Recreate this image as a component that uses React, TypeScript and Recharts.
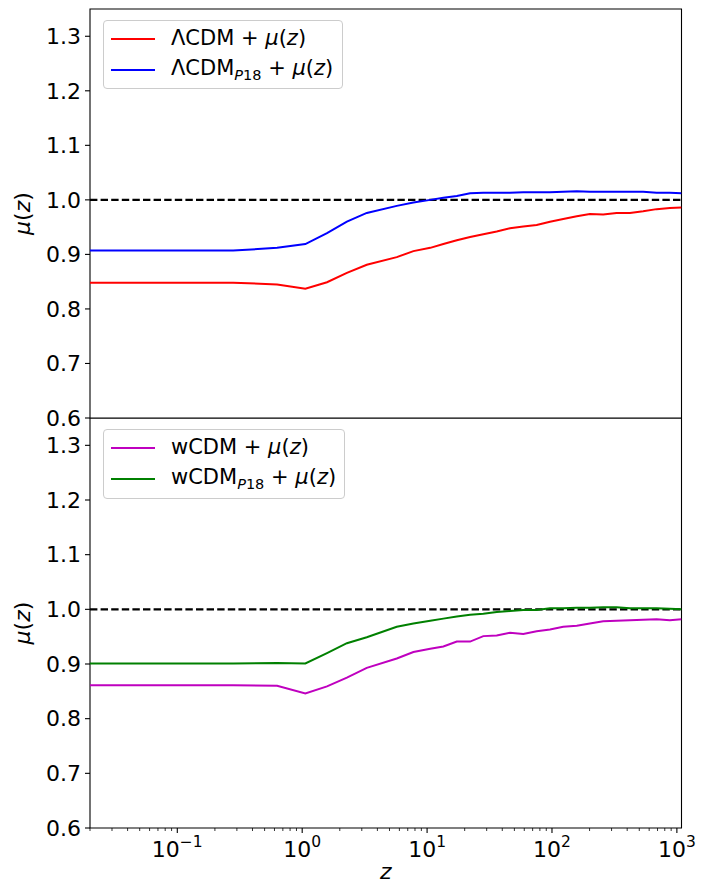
import React from 'react';
import { LineChart, Line, XAxis, YAxis, ReferenceLine, ReferenceArea, Legend } from 'recharts';

// redshift grid shared by all curves
const zValues = [
  0.02, 0.28, 0.63, 1.06, 1.58, 2.28, 3.29, 5.72, 7.77, 10.6, 13.5, 17.3, 22.1, 28.2, 36.1,
  46.1, 58.9, 75.4, 96.4, 123, 158, 201, 257, 329, 421, 537, 688, 879, 1089,
];

// top panel
const lcdm = [
  0.848, 0.848, 0.845, 0.837, 0.849, 0.866, 0.881, 0.895, 0.906, 0.912, 0.919, 0.926, 0.932, 0.937, 0.942,
  0.948, 0.951, 0.954, 0.96, 0.965, 0.97, 0.974, 0.973, 0.976, 0.976, 0.979, 0.983, 0.985, 0.986,
];
const lcdmP18 = [
  0.907, 0.907, 0.912, 0.919, 0.939, 0.96, 0.976, 0.989, 0.995, 1.0, 1.004, 1.007, 1.012, 1.013, 1.013,
  1.013, 1.014, 1.014, 1.014, 1.015, 1.016, 1.015, 1.015, 1.015, 1.015, 1.015, 1.013, 1.013, 1.012,
];

// bottom panel
const wcdm = [
  0.861, 0.861, 0.86, 0.846, 0.859, 0.875, 0.893, 0.91, 0.922, 0.928, 0.932, 0.941, 0.941, 0.951, 0.952,
  0.957, 0.955, 0.96, 0.963, 0.968, 0.97, 0.974, 0.978, 0.979, 0.98, 0.981, 0.982, 0.98, 0.982,
];
const wcdmP18 = [
  0.901, 0.901, 0.902, 0.901, 0.92, 0.938, 0.949, 0.968, 0.974, 0.979, 0.983, 0.987, 0.99, 0.992, 0.995,
  0.997, 0.999, 0.999, 1.002, 1.002, 1.003, 1.003, 1.004, 1.004, 1.002, 1.002, 1.002, 1.001, 1.0,
];

const yTicks = [0.6, 0.7, 0.8, 0.9, 1.0, 1.1, 1.2, 1.3];
const majorExps = [-1, 0, 1, 2, 3];
const xDomain: [number, number] = [0.02, 1089];
const yDomain: [number, number] = [0.6, 1.35];

const FONT = '"DejaVu Sans", sans-serif';

const topData = zValues.map((z, i) => ({ z, a: lcdm[i], b: lcdmP18[i] }));
const bottomData = zValues.map((z, i) => ({ z, a: wcdm[i], b: wcdmP18[i] }));

// major + minor log ticks inside the domain
const xTicks: number[] = [];
for (let e = -2; e <= 3; e++) {
  for (let m = 1; m <= 9; m++) {
    const v = m * Math.pow(10, e);
    if (v >= xDomain[0] && v <= xDomain[1]) xTicks.push(v);
  }
}

const XTick = (props: any) => {
  const { x, y, payload } = props;
  const v = payload.value;
  const e = Math.round(Math.log10(v));
  const major = majorExps.includes(e) && Math.abs(Math.pow(10, e) - v) / v < 1e-6;
  return (
    <g>
      <line x1={x} x2={x} y1={y} y2={y + (major ? 5 : 3)} stroke="#000" strokeWidth={major ? 1.1 : 0.8} />
      {major && (
        <text x={x} y={y + 29} textAnchor="middle" fontSize={22} fill="#000" fontFamily={FONT}>
          <tspan>10</tspan>
          <tspan dy={-10} fontSize={15.5}>{e < 0 ? '\u2212' + -e : String(e)}</tspan>
        </text>
      )}
    </g>
  );
};

const YTitle = (props: any) => {
  const vb = props.viewBox || {};
  const cy = vb.y + vb.height / 2;
  return (
    <text transform={`translate(30, ${cy}) rotate(-90)`} textAnchor="middle" fontSize={22} fill="#000" fontFamily={FONT}>
      <tspan fontStyle="italic">μ</tspan>
      <tspan>(</tspan>
      <tspan fontStyle="italic">z</tspan>
      <tspan>)</tspan>
    </text>
  );
};

const XTitle = (props: any) => {
  const vb = props.viewBox || {};
  return (
    <text x={vb.x + vb.width / 2} y={vb.y + 51} textAnchor="middle" fontSize={22} fill="#000" fontFamily={FONT} fontStyle="italic">
      z
    </text>
  );
};

const SeriesName = ({ base, sub }: { base: string; sub?: boolean }) => (
  <>
    {base}
    {sub && (
      <span style={{ fontSize: 14.5, position: 'relative', top: 5 }}>
        <i>P</i>18
      </span>
    )}
    {' + '}
    <i>μ</i>(<i>z</i>)
  </>
);

const LegendPanel = ({ base, c1, c2, width, height }: { base: string; c1: string; c2: string; width: number; height: number }) => (
  <div
    style={{
      width,
      height,
      boxSizing: 'border-box',
      border: '1px solid #cccccc',
      borderRadius: 4,
      background: 'rgba(255,255,255,0.8)',
      paddingTop: 2,
      fontFamily: FONT,
      fontSize: 21,
      color: '#000',
    }}
  >
    {[
      { color: c1, sub: false },
      { color: c2, sub: true },
    ].map((it, i) => (
      <div key={i} style={{ height: 31, display: 'flex', alignItems: 'center' }}>
        <span style={{ display: 'inline-block', width: 44, height: 2, marginLeft: 7, background: it.color }} />
        <span style={{ marginLeft: 16, whiteSpace: 'nowrap', lineHeight: '31px' }}>
          <SeriesName base={base} sub={it.sub} />
        </span>
      </div>
    ))}
  </div>
);

function Panel({
  data,
  height,
  showX,
  c1,
  c2,
  base,
  legendTop,
  legendW,
  legendH,
}: {
  data: any[];
  height: number;
  showX: boolean;
  c1: string;
  c2: string;
  base: string;
  legendTop: number;
  legendW: number;
  legendH: number;
}) {
  return (
    <LineChart
      width={711}
      height={height}
      data={data}
      margin={{ top: showX ? 0 : 9, right: 29.5, bottom: showX ? 0 : 14, left: 0 }}
    >
      <XAxis
        dataKey="z"
        type="number"
        scale="log"
        domain={xDomain}
        allowDataOverflow
        ticks={xTicks}
        interval={0}
        hide={!showX}
        height={60}
        axisLine={false}
        tickLine={false}
        tickSize={0}
        tickMargin={0}
        tick={<XTick />}
        label={<XTitle />}
      />
      <YAxis
        type="number"
        domain={yDomain}
        ticks={yTicks}
        interval={0}
        allowDataOverflow
        width={90}
        axisLine={false}
        tickSize={5}
        tickMargin={4}
        tickLine={{ stroke: '#000', strokeWidth: 1.1 }}
        tick={{ fontSize: 22, fill: '#000', fontFamily: FONT }}
        tickFormatter={(v: number) => v.toFixed(1)}
        label={<YTitle />}
      />
      <ReferenceLine y={1} stroke="#000" strokeWidth={2.1} strokeDasharray="7.4 3.2" />
      <Line type="linear" dataKey="a" stroke={c1} strokeWidth={2} dot={false} isAnimationActive={false} />
      <Line type="linear" dataKey="b" stroke={c2} strokeWidth={2} dot={false} isAnimationActive={false} />
      <ReferenceArea x1={xDomain[0]} x2={xDomain[1]} y1={yDomain[0]} y2={yDomain[1]} fill="none" stroke="#000" strokeWidth={1.1} />
      <Legend
        layout="vertical"
        align="center"
        verticalAlign="middle"
        wrapperStyle={{ left: 103, top: legendTop, width: legendW, height: legendH }}
        content={() => <LegendPanel base={base} c1={c1} c2={c2} width={legendW} height={legendH} />}
      />
    </LineChart>
  );
}

export default function App() {
  return (
    <div style={{ position: 'absolute', left: 0, top: 0, width: 711, height: 888, background: '#fff' }}>
      <div style={{ position: 'absolute', left: 0, top: 418 }}>
        <Panel data={bottomData} height={470} showX c1="#bf00bf" c2="#008000" base="wCDM" legendTop={11} legendW={242} legendH={70} />
      </div>
      <div style={{ position: 'absolute', left: 0, top: 0 }}>
        <Panel data={topData} height={432} showX={false} c1="#ff0000" c2="#0000ff" base="ΛCDM" legendTop={20} legendW={240} legendH={69} />
      </div>
    </div>
  );
}
